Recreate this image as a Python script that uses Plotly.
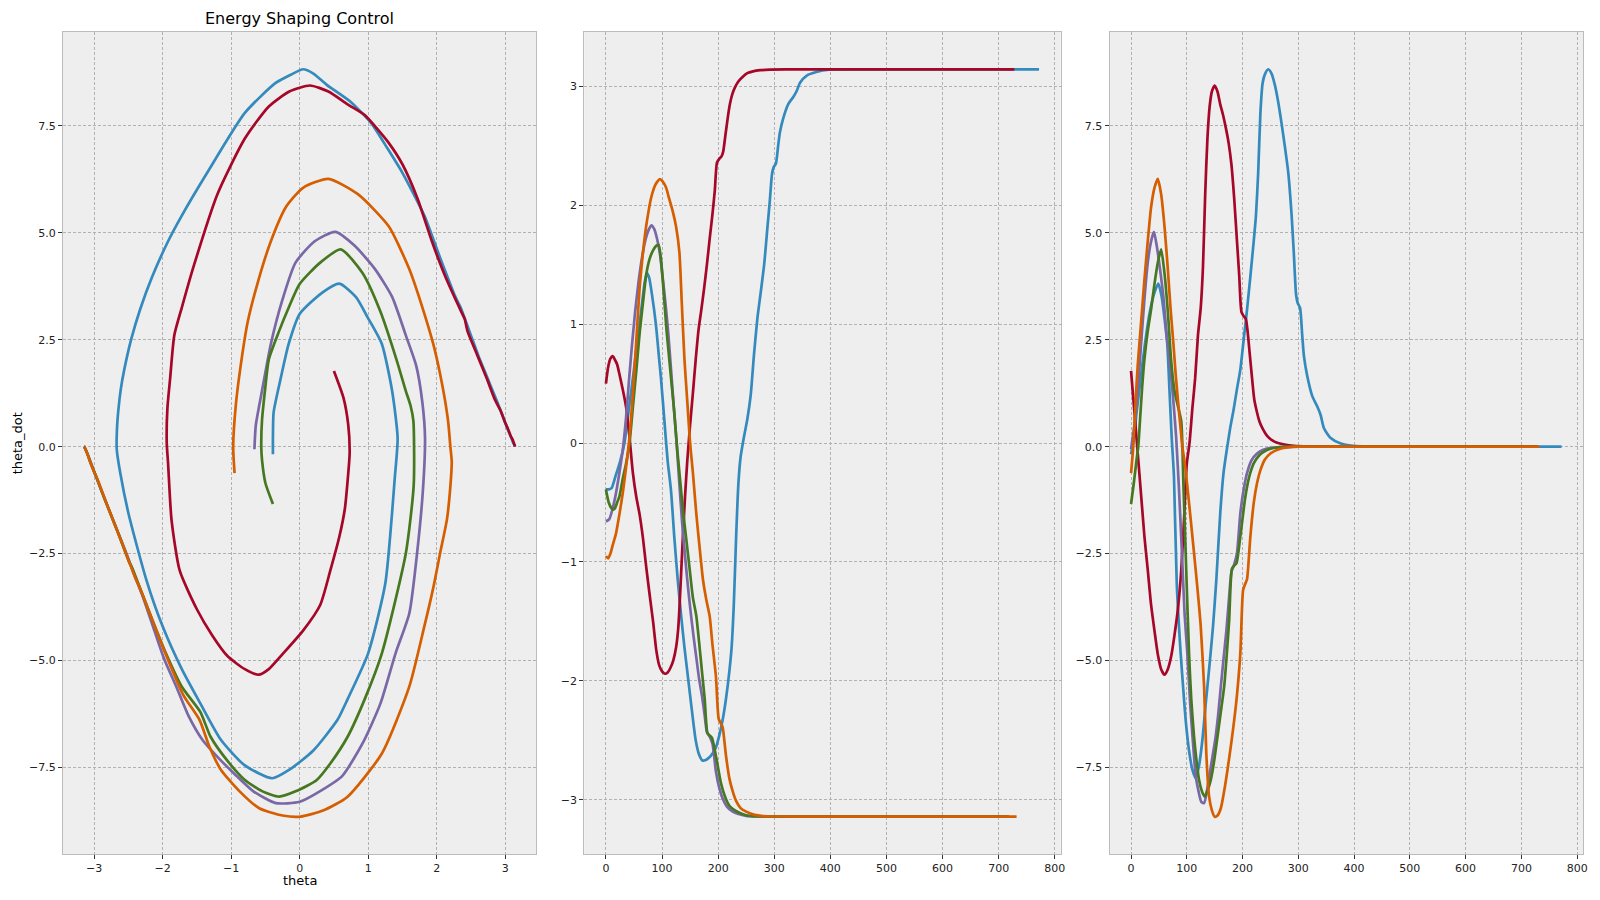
import plotly.graph_objects as go
from plotly.subplots import make_subplots

# trajectories of the pendulum under energy shaping control
blue_t = [0, 5, 10, 17, 25, 33, 42, 49, 55, 60, 65, 69, 73, 77, 82, 89, 95, 98, 104, 110,
          116, 122, 128, 134, 140, 147, 153, 160, 166, 172, 178, 184, 190, 196, 202, 208, 214, 220, 224, 228,
          232, 236, 240, 246, 252, 258, 264, 270, 276, 282, 288, 292, 296, 299, 303, 307, 310, 316, 325, 334,
          340, 346, 358, 375, 398, 450, 550, 650, 772]
blue_theta = [-0.39, -0.39, -0.38, -0.28, -0.16, 0.0, 0.33, 0.58, 0.82, 1.0, 1.2, 1.35, 1.43, 1.39, 1.25, 1.0, 0.7, 0.55, 0.2, -0.15,
              -0.4, -0.8, -1.15, -1.45, -1.72, -2.0, -2.24, -2.5, -2.62, -2.67, -2.665, -2.645, -2.61, -2.56, -2.46, -2.33, -2.15, -1.92, -1.72, -1.35,
              -0.8, -0.35, -0.12, 0.05, 0.2, 0.4, 0.75, 1.05, 1.27, 1.5, 1.82, 2.03, 2.26, 2.32, 2.35, 2.5, 2.61, 2.73, 2.85, 2.91,
              2.96, 3.03, 3.09, 3.12, 3.139, 3.1416, 3.1416, 3.1416, 3.1416]
blue_theta_dot = [-0.18, 0.2, 0.8, 1.57, 2.4, 3.1, 3.6, 3.81, 3.5, 3.0, 2.4, 1.3, 0.2, -0.7, -3.2, -4.83, -5.9, -6.39, -7.1, -7.55,
                  -7.75, -7.45, -6.85, -6.0, -5.2, -4.2, -3.1, -1.55, -0.6, -0.05, 0.45, 0.87, 1.35, 1.8, 2.5, 3.2, 3.98, 4.8, 5.4, 6.4,
                  7.8, 8.5, 8.7, 8.82, 8.72, 8.45, 8.05, 7.55, 7.0, 6.4, 5.4, 4.5, 3.55, 3.35, 3.25, 2.6, 2.12, 1.65, 1.18, 0.94,
                  0.74, 0.43, 0.2, 0.08, 0.02, 0.0, 0.0, 0.0, 0.0]

red_t = [0, 4, 8, 12, 16, 20, 24, 30, 36, 42, 48, 54, 60, 66, 72, 78, 84, 90, 95, 100,
         105, 110, 115, 120, 125, 129, 133, 137, 141, 145, 150, 155, 160, 165, 170, 175, 180, 185, 190, 194,
         198, 202, 206, 209, 213, 217, 221, 225, 230, 236, 244, 252, 262, 275, 292, 320, 400, 500, 600, 728]
red_theta = [0.50, 0.64, 0.71, 0.73, 0.70, 0.66, 0.58, 0.45, 0.30, 0.05, -0.25, -0.45, -0.60, -0.80, -1.05, -1.28, -1.50, -1.75, -1.87, -1.92,
             -1.94, -1.93, -1.89, -1.83, -1.72, -1.55, -1.20, -0.80, -0.45, -0.15, 0.15, 0.42, 0.70, 0.95, 1.12, 1.30, 1.50, 1.72, 1.93, 2.12,
             2.36, 2.39, 2.41, 2.45, 2.59, 2.73, 2.85, 2.93, 2.99, 3.04, 3.08, 3.11, 3.125, 3.135, 3.14, 3.1414, 3.1416, 3.1416, 3.1416, 3.1416]
red_theta_dot = [1.77, 1.14, 0.5, -0.15, -0.8, -1.45, -2.1, -2.88, -3.7, -4.3, -4.85, -5.2, -5.33, -5.2, -4.9, -4.4, -3.8, -2.9, -1.71, -0.4,
                 0.1, 0.9, 1.6, 2.6, 3.25, 4.2, 5.9, 7.2, 7.95, 8.3, 8.44, 8.3, 8.0, 7.75, 7.45, 7.1, 6.6, 5.8, 4.8, 4.0,
                 3.15, 3.05, 2.98, 2.7, 2.15, 1.6, 1.1, 0.85, 0.6, 0.42, 0.25, 0.16, 0.09, 0.05, 0.02, 0.005, 0, 0, 0, 0]

purple_t = [0, 6, 12, 18, 24, 30, 36, 41, 46, 52, 58, 64, 70, 76, 81, 86, 91, 96, 101, 106,
            111, 116, 121, 126, 131, 136, 141, 146, 151, 156, 161, 166, 171, 176, 180, 185, 190, 196, 202, 208,
            216, 226, 236, 250, 270, 300, 400, 500, 600, 718]
purple_theta = [-0.66, -0.64, -0.55, -0.42, -0.25, -0.06, 0.22, 0.52, 0.8, 1.1, 1.35, 1.55, 1.7, 1.79, 1.83, 1.8, 1.72, 1.6, 1.4, 1.18,
                0.93, 0.62, 0.3, 0.0, -0.35, -0.68, -0.95, -1.2, -1.42, -1.62, -1.8, -1.98, -2.12, -2.29, -2.43, -2.47, -2.53, -2.76, -2.9, -2.99,
                -3.06, -3.1, -3.12, -3.135, -3.14, -3.1416, -3.1416, -3.1416, -3.1416, -3.1416]
purple_theta_dot = [-0.06, 0.5, 1.3, 2.4, 3.44, 4.3, 4.8, 5.02, 4.7, 4.15, 3.5, 2.6, 1.9, 1.05, 0.2, -1.0, -2.4, -3.9, -4.83, -6.0,
                    -6.9, -7.7, -8.05, -8.3, -8.33, -8.05, -7.65, -7.25, -6.85, -6.3, -5.61, -4.95, -4.3, -3.5, -2.93, -2.75, -2.49, -1.56, -1.0, -0.62,
                    -0.32, -0.16, -0.08, -0.03, -0.01, 0, 0, 0, 0, 0]

green_t = [0, 5, 10, 13, 16, 20, 24, 30, 36, 42, 48, 54, 60, 66, 72, 78, 84, 90, 94, 98,
           104, 108, 113, 118, 122, 127, 132, 137, 143, 149, 155, 161, 167, 172, 176, 181, 185, 189, 196, 205,
           212, 220, 230, 238, 250, 262, 290, 400, 500, 600, 718]
green_theta = [-0.39, -0.5, -0.55, -0.56, -0.55, -0.5, -0.45, -0.3, -0.17, 0.0, 0.3, 0.6, 0.92, 1.18, 1.42, 1.55, 1.62, 1.66, 1.665, 1.55,
               1.2, 0.95, 0.7, 0.45, 0.25, -0.05, -0.3, -0.55, -0.8, -1.05, -1.3, -1.45, -1.72, -1.96, -2.15, -2.44, -2.46, -2.48, -2.63, -2.86,
               -2.97, -3.05, -3.09, -3.11, -3.13, -3.138, -3.1413, -3.1416, -3.1416, -3.1416, -3.1416]
green_theta_dot = [-1.34, -0.85, -0.3, 0.0, 0.6, 1.4, 2.04, 2.7, 3.21, 3.8, 4.3, 4.61, 4.05, 3.15, 2.0, 1.3, 0.95, 0.6, -0.9, -2.49,
                   -4.83, -5.9, -6.78, -7.4, -7.79, -8.05, -8.18, -8.05, -7.79, -7.35, -6.78, -6.2, -5.61, -4.8, -4.05, -2.85, -2.78, -2.73, -2.1, -1.17,
                   -0.7, -0.39, -0.2, -0.12, -0.05, -0.02, 0, 0, 0, 0, 0]

orange_t = [0, 4, 8, 12, 18, 24, 30, 36, 42, 48, 54, 60, 66, 71, 76, 80, 84, 88, 92, 96,
            101, 107, 113, 119, 125, 131, 135, 140, 145, 150, 155, 161, 167, 173, 179, 185, 190, 196, 201, 205,
            208, 214, 220, 226, 232, 240, 250, 265, 280, 300, 400, 500, 600, 732]
orange_theta = [-0.95, -0.97, -0.93, -0.86, -0.76, -0.6, -0.42, -0.2, 0.05, 0.42, 0.85, 1.3, 1.6, 1.8, 1.95, 2.05, 2.12, 2.17, 2.2, 2.22,
                2.2, 2.15, 2.05, 1.95, 1.82, 1.6, 1.2, 0.7, 0.35, 0.0, -0.25, -0.59, -0.88, -1.15, -1.32, -1.46, -1.7, -1.96, -2.32, -2.36,
                -2.39, -2.63, -2.82, -2.93, -3.01, -3.07, -3.1, -3.127, -3.137, -3.1405, -3.1416, -3.1416, -3.1416, -3.1416]
orange_theta_dot = [-0.62, 0.0, 1.0, 1.9, 2.9, 3.9, 4.8, 5.6, 6.05, 6.26, 5.9, 5.15, 4.15, 3.21, 2.4, 1.7, 1.1, 0.55, 0.0, -0.35,
                    -0.93, -1.7, -2.49, -3.3, -4.2, -5.61, -7.17, -8.18, -8.5, -8.65, -8.62, -8.45, -8.05, -7.55, -7.0, -6.39, -5.8, -4.83, -3.35, -3.2,
                    -3.1, -2.1, -1.32, -0.85, -0.55, -0.3, -0.16, -0.06, -0.02, 0, 0, 0, 0, 0]

# bmh colour cycle, in plotting order
runs = [
    (blue_t, blue_theta, blue_theta_dot, '#348ABD'),
    (red_t, red_theta, red_theta_dot, '#A60628'),
    (purple_t, purple_theta, purple_theta_dot, '#7A68A6'),
    (green_t, green_theta, green_theta_dot, '#467821'),
    (orange_t, orange_theta, orange_theta_dot, '#D55E00'),
]

fig = make_subplots(rows=1, cols=3)

for t, th, thd, col in runs:
    line = dict(color=col, width=2.7, shape='spline', smoothing=0.6)
    fig.add_trace(go.Scatter(x=th, y=thd, mode='lines', line=line), row=1, col=1)
    fig.add_trace(go.Scatter(x=t, y=th, mode='lines', line=line), row=1, col=2)
    fig.add_trace(go.Scatter(x=t, y=thd, mode='lines', line=line), row=1, col=3)

axis_style = dict(
    showgrid=True, gridcolor='#b2b2b2', griddash='3px,2px', gridwidth=0.6,
    zeroline=False, showline=True, linecolor='#bcbcbc', linewidth=1, mirror=True,
    ticks='outside', ticklen=4, tickcolor='#333333', tickwidth=1,
    tickfont=dict(family='DejaVu Sans', size=11, color='#222222'),
)

fig.update_xaxes(**axis_style)
fig.update_yaxes(**axis_style)

# the page body adds an 8px offset, so domains are shifted to compensate
ydot_range = [-9.52, 9.69]
ydom = [0.06, 0.9733]
fig.update_layout(
    xaxis=dict(domain=[0.0344, 0.3313], range=[-3.456, 3.456], dtick=1),
    yaxis=dict(domain=ydom, range=ydot_range, dtick=2.5, tickformat='.1f'),
    xaxis2=dict(domain=[0.3613, 0.66], range=[-38.6, 810.6], dtick=100),
    yaxis2=dict(domain=ydom, range=[-3.456, 3.456], dtick=1),
    xaxis3=dict(domain=[0.6906, 0.9875], range=[-38.6, 810.6], dtick=100),
    yaxis3=dict(domain=ydom, range=ydot_range, dtick=2.5, tickformat='.1f'),
    plot_bgcolor='#eeeeee',
    paper_bgcolor='white',
    showlegend=False,
    width=1600, height=900,
    margin=dict(l=0, r=0, t=0, b=0),
    annotations=[
        dict(text='Energy Shaping Control', x=0.1828, y=0.9884, xref='paper', yref='paper',
             showarrow=False, xanchor='center', yanchor='middle',
             font=dict(family='DejaVu Sans', size=16, color='black')),
        dict(text='theta', x=0.1828, y=0.0311, xref='paper', yref='paper',
             showarrow=False, xanchor='center', yanchor='middle',
             font=dict(family='DejaVu Sans', size=13, color='black')),
        dict(text='theta_dot', x=0.0065, y=0.5167, xref='paper', yref='paper',
             showarrow=False, xanchor='center', yanchor='middle', textangle=-90,
             font=dict(family='DejaVu Sans', size=13, color='black')),
    ],
)

fig.write_html("out.html")
